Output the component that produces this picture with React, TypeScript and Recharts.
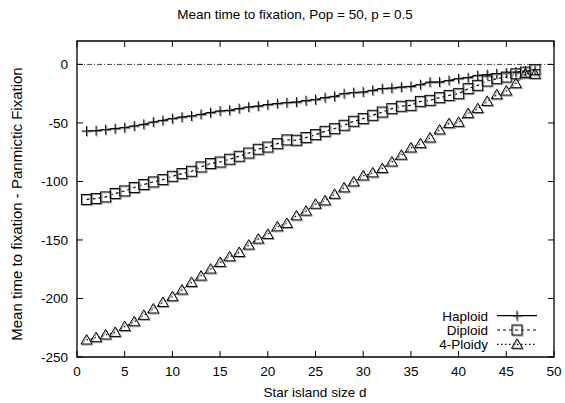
import React from 'react';
import { LineChart, Line, XAxis, YAxis, ReferenceLine, ReferenceArea } from 'recharts';

const sizes = [1,2,3,4,5,6,7,8,9,10,11,12,13,14,15,16,17,18,19,20,21,22,23,24,25,26,27,28,29,30,31,32,33,34,35,36,37,38,39,40,41,42,43,44,45,46,47,48];

const haploid = [-56.9,-56.6,-55.7,-54.9,-54.0,-52.6,-51.2,-49.2,-47.8,-46.3,-45.0,-44.1,-42.7,-41.2,-39.8,-39.2,-37.8,-36.4,-35.6,-34.4,-33.5,-32.7,-32.2,-31.0,-30.1,-28.4,-27.3,-25.0,-24.1,-23.6,-22.2,-20.7,-20.2,-19.4,-18.8,-17.3,-15.1,-15.1,-13.7,-12.2,-11.3,-9.4,-8.8,-8.0,-7.4,-6.6,-5.7,-4.5];

const diploid = [-115.4,-114.6,-113.2,-110.3,-108.1,-105.2,-102.6,-100.4,-98.4,-95.6,-93.3,-91.3,-87.6,-84.7,-83.4,-81.0,-78.5,-75.7,-72.5,-70.6,-67.7,-64.5,-64.8,-62.5,-60.0,-57.2,-54.9,-52.0,-48.6,-46.3,-43.5,-40.7,-37.8,-35.8,-35.0,-31.6,-30.7,-28.4,-26.5,-25.0,-20.7,-17.9,-14.2,-12.2,-10.8,-8.0,-6.6,-4.5];

const tetraploid = [-235.5,-233.5,-231.2,-229.0,-224.0,-219.9,-214.4,-209.0,-203.4,-198.5,-192.8,-186.3,-180.9,-174.9,-169.2,-164.4,-160.7,-154.4,-149.3,-145.3,-138.8,-135.9,-129.4,-125.4,-119.5,-116.6,-111.0,-105.5,-100.4,-95.3,-92.7,-89.0,-83.4,-77.6,-71.4,-67.7,-62.9,-56.0,-50.6,-49.5,-42.0,-37.8,-31.6,-26.0,-22.8,-16.5,-8.0,-8.5];

const xTicks = [0,5,10,15,20,25,30,35,40,45,50];
const yTicks = [-250,-200,-150,-100,-50,0];

const title = 'Mean time to fixation, Pop = 50, p = 0.5';
const xLabel = 'Star island size d';
const yLabel = 'Mean time to fixation - Panmictic Fixation';
const seriesNames = ['Haploid', 'Diploid', '4-Ploidy'];

const data = sizes.map((d, i) => ({ d, haploid: haploid[i], diploid: diploid[i], tetraploid: tetraploid[i] }));

const W = 565;
const H = 403;
const PLOT_LEFT = 77;
const PLOT_RIGHT = 554;
const PLOT_TOP = 41;
const PLOT_BOTTOM = 357;
const FONT = '"Liberation Sans", Arial, Helvetica, sans-serif';
const FS = 13.5;

const withShadow = (draw: (cx: number, cy: number, color: string) => any) => ({ cx, cy }: any) => (
  <g>
    {draw(cx + 1, cy + 1, '#9a9a9a')}
    {draw(cx, cy, '#000')}
  </g>
);

const Plus = withShadow((cx, cy, c) => (
  <g stroke={c} strokeWidth={1}>
    <line x1={cx - 5} y1={cy} x2={cx + 5} y2={cy} />
    <line x1={cx} y1={cy - 5} x2={cx} y2={cy + 5} />
  </g>
));
const Square = withShadow((cx, cy, c) => (
  <rect x={cx - 5} y={cy - 5} width={10} height={10} fill="none" stroke={c} strokeWidth={1} />
));
const Triangle = withShadow((cx, cy, c) => (
  <polygon points={`${cx - 5.5},${cy + 4} ${cx + 5.5},${cy + 4} ${cx},${cy - 5.5}`} fill="none" stroke={c} strokeWidth={1} />
));

const dotFn = (Shape: any, prefix: string) => (p: any) => {
  if (p.cx == null || p.cy == null) return <g key={`${prefix}-${p.index}`} />;
  return <Shape key={`${prefix}-${p.index}`} cx={p.cx} cy={p.cy} />;
};

const XTick = (p: any) => {
  const { x, payload } = p;
  return (
    <g>
      <line x1={x} y1={PLOT_BOTTOM} x2={x} y2={PLOT_BOTTOM - 6} stroke="#000" />
      <line x1={x} y1={PLOT_TOP} x2={x} y2={PLOT_TOP + 6} stroke="#000" />
      <text x={x} y={PLOT_BOTTOM + 19} textAnchor="middle" fontSize={FS} fontFamily={FONT} fill="#000">{payload.value}</text>
    </g>
  );
};

const YTick = (p: any) => {
  const { y, payload } = p;
  return (
    <g>
      <line x1={PLOT_LEFT} y1={y} x2={PLOT_LEFT + 6} y2={y} stroke="#000" />
      <line x1={PLOT_RIGHT} y1={y} x2={PLOT_RIGHT - 6} y2={y} stroke="#000" />
      <text x={PLOT_LEFT - 9} y={y + 5} textAnchor="end" fontSize={FS} fontFamily={FONT} fill="#000">{payload.value}</text>
    </g>
  );
};

const legendRows = [
  { name: seriesNames[0], dash: undefined, Shape: Plus, y: 315.7 },
  { name: seriesNames[1], dash: '3 3', Shape: Square, y: 330 },
  { name: seriesNames[2], dash: '1.5 2.5', Shape: Triangle, y: 344.3 },
];

export default function App() {
  return (
    <div style={{ position: 'absolute', left: 0, top: 0, width: W, height: H, background: '#fff' }}>
      <LineChart width={W} height={H} data={data} margin={{ top: PLOT_TOP, right: W - PLOT_RIGHT, bottom: 16, left: 0 }}>
        <XAxis
          dataKey="d"
          type="number"
          domain={[0, 50]}
          ticks={xTicks}
          interval={0}
          axisLine={false}
          tickLine={false}
          tickSize={0}
          tickMargin={0}
          height={30}
          tick={<XTick />}
        />
        <YAxis
          type="number"
          domain={[-250, 20]}
          ticks={yTicks}
          interval={0}
          axisLine={false}
          tickLine={false}
          tickSize={0}
          tickMargin={0}
          width={PLOT_LEFT}
          tick={<YTick />}
        />
        <ReferenceLine y={0} stroke="#444" strokeWidth={1} strokeDasharray="5 2 1 2" />
        <ReferenceArea x1={0} x2={50} y1={-250} y2={20} fill="none" stroke="#000" strokeWidth={1.3} ifOverflow="visible" />
        <Line dataKey="haploid" stroke="#000" strokeWidth={1.2} isAnimationActive={false} dot={dotFn(Plus, 'h')} activeDot={false} />
        <Line dataKey="diploid" stroke="#000" strokeWidth={1.2} strokeDasharray="3 3" isAnimationActive={false} dot={dotFn(Square, 'd')} activeDot={false} />
        <Line dataKey="tetraploid" stroke="#000" strokeWidth={1.2} strokeDasharray="1.5 2.5" isAnimationActive={false} dot={dotFn(Triangle, 't')} activeDot={false} />
      </LineChart>
      <svg width={W} height={H} style={{ position: 'absolute', left: 0, top: 0, pointerEvents: 'none' }}>
        <text x={295} y={19} textAnchor="middle" fontSize={FS} fontFamily={FONT} fill="#000">{title}</text>
        <text x={315} y={397} textAnchor="middle" fontSize={FS} fontFamily={FONT} fill="#000">{xLabel}</text>
        <text x={22} y={204} textAnchor="middle" fontSize={15} fontFamily={FONT} fill="#000" transform="rotate(-90 22 204)">{yLabel}</text>
        {legendRows.map((r) => (
          <g key={r.name}>
            <text x={488} y={r.y + 5} textAnchor="end" fontSize={FS} fontFamily={FONT} fill="#000">{r.name}</text>
            <line x1={497} y1={r.y} x2={537} y2={r.y} stroke="#000" strokeWidth={1.2} strokeDasharray={r.dash} />
            <r.Shape cx={517} cy={r.y} />
          </g>
        ))}
      </svg>
    </div>
  );
}
